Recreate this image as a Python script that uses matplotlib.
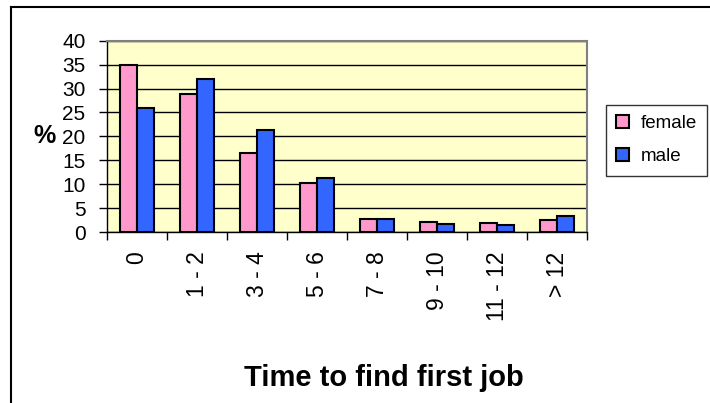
import matplotlib
matplotlib.use("Agg")
import matplotlib.pyplot as plt
from matplotlib.lines import Line2D
import numpy as np

categories = ["0", "1 - 2", "3 - 4", "5 - 6", "7 - 8", "9 - 10", "11 - 12", "> 12"]
female = [35.0, 28.9, 16.6, 10.2, 2.7, 2.0, 1.9, 2.5]
male = [26.0, 31.9, 21.3, 11.2, 2.65, 1.6, 1.5, 3.4]

plt.rcParams['font.family'] = ['Liberation Sans', 'DejaVu Sans']

W, H = 710, 403
fig = plt.figure(figsize=(W / 100, H / 100), dpi=100)
fig.patch.set_facecolor('white')

ax = fig.add_axes([107 / W, 1 - 232 / H, 480 / W, (232 - 40.7) / H])
ax.set_facecolor('#FFFFCC')

x = np.arange(len(categories))
bw = 0.29
ax.bar(x - bw / 2, female, bw, color='#FF99CC', edgecolor='black', linewidth=1.5, label='female', zorder=3)
ax.bar(x + bw / 2, male, bw, color='#3366FF', edgecolor='black', linewidth=1.5, label='male', zorder=3)

ax.set_xlim(-0.5, len(categories) - 0.5)
ax.set_ylim(0, 40)
ax.set_yticks(np.arange(0, 41, 5))
ax.yaxis.grid(True, color='black', linewidth=1.0, zorder=1)
ax.set_axisbelow(True)

ax.set_xticks(x)
ax.set_xticklabels(categories, rotation=90, va='top', ha='center', fontsize=16.5)
ax.set_xticks(np.arange(-0.5, len(categories), 1), minor=True)
ax.tick_params(axis='x', which='major', length=0, pad=14)
ax.tick_params(axis='x', which='minor', length=5.5, width=1, direction='out', color='black')
ax.tick_params(axis='y', length=5.5, width=1, direction='out', pad=10, labelsize=15)

for s in ['top', 'right']:
    ax.spines[s].set_color('#808080')
    ax.spines[s].set_linewidth(1.5)
for s in ['left', 'bottom']:
    ax.spines[s].set_color('black')
    ax.spines[s].set_linewidth(1.0)

fig.text(44 / W, 1 - 136 / H, '%', fontsize=18, fontweight='bold', ha='center', va='center')
fig.text(384 / W, 1 - 378 / H, 'Time to find first job', fontsize=21, fontweight='bold',
         ha='center', va='center')

leg = fig.legend(loc='upper left', bbox_to_anchor=(606 / W, 1 - 105 / H), borderaxespad=0,
                 frameon=True, fancybox=False, edgecolor='black', fontsize=13.5,
                 handlelength=0.65, handleheight=0.65, handletextpad=0.65,
                 labelspacing=0.85, borderpad=0.55)
leg.get_frame().set_linewidth(1.0)
for h in leg.legend_handles:
    h.set_linewidth(1.5)

fig.add_artist(Line2D([11 / W, 11 / W], [0, 1 - 7 / H], color='black', linewidth=1.5,
                      transform=fig.transFigure))
fig.add_artist(Line2D([11 / W, 1], [1 - 7 / H, 1 - 7 / H], color='black', linewidth=1.5,
                      transform=fig.transFigure))

fig.savefig('out.png', dpi=100)
